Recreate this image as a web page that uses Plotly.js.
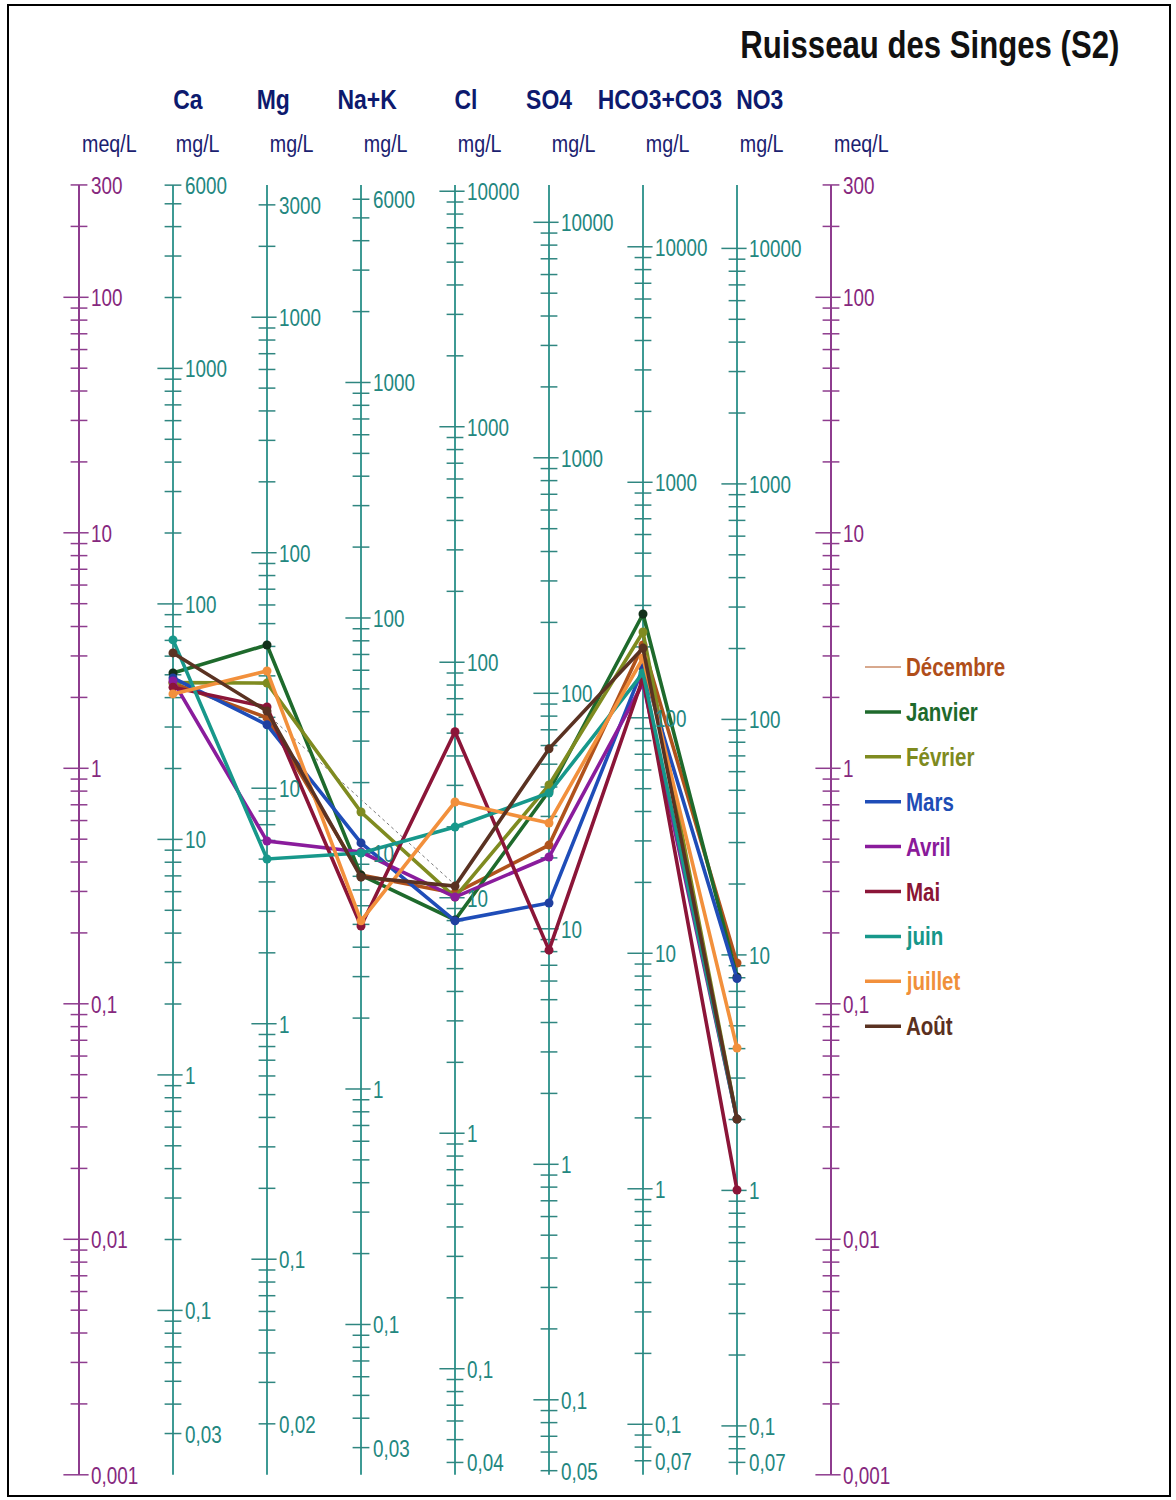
<!DOCTYPE html>
<html><head><meta charset="utf-8">
<script src="https://cdn.plot.ly/plotly-3.0.1.min.js"></script>
<style>body{margin:0;background:#fff}</style>
</head><body>
<div id="chart" style="width:1176px;height:1500px"></div>
<script>
// ---------- DATA (meq/L) ----------
const columns = ['Ca', 'Mg', 'Na+K', 'Cl', 'SO4', 'HCO3+CO3', 'NO3'];
const eqWeights = [20.04, 12.15, 23.0, 35.45, 48.03, 61.02, 62.0]; // mg per meq
const meqRange = [0.001, 300];
const months = ['Décembre', 'Janvier', 'Février', 'Mars', 'Avril', 'Mai', 'juin', 'juillet', 'Août'];
const decembre = [2.30, 1.64, 0.352, 0.295, 0.472, 3.34, 0.149];
const janvier  = [2.54, 3.34, 0.352, 0.227, 0.801, 4.52, 0.130];
const fevrier  = [2.31, 2.30, 0.652, 0.284, 0.849, 3.79, 0.0324];
const mars     = [2.42, 1.53, 0.482, 0.225, 0.268, 2.67, 0.128];
const avril    = [2.35, 0.491, 0.441, 0.284, 0.420, 2.30, 0.0324];
const mai      = [2.21, 1.82, 0.214, 1.43, 0.169, 2.42, 0.0162];
const juin     = [3.51, 0.412, 0.437, 0.563, 0.785, 2.54, 0.0324];
const juillet  = [2.07, 2.59, 0.225, 0.719, 0.586, 2.94, 0.0649];
const aout     = [3.09, 1.75, 0.345, 0.316, 1.21, 3.24, 0.0324];
const decembrePointille = [null, 1.70, null, 0.320, null, null, null];
const seriesValues = [decembre, janvier, fevrier, mars, avril, mai, juin, juillet, aout];
const titleText = 'Ruisseau des Singes (S2)';
const unitMeq = 'meq/L', unitMg = 'mg/L';

// ---------- STYLE ----------
const seriesColors = ['#B0521C', '#1E6A2C', '#7F8B20', '#1F4DB8', '#8A1C9C', '#8B1538', '#17988B', '#F2903C', '#5A3222'];
const markerColors = ['#B0521C', '#12301A', '#7F8B20', '#1F3FA0', '#8A1C9C', '#8B1538', '#17988B', '#F2903C', '#5A3222'];
const legendTextColors = ['#B04E1A', '#1E6A2C', '#7E8A1E', '#1E4DB5', '#8A1A9A', '#8A1535', '#16978A', '#F0903A', '#5A3020'];
const FONT = '"Liberation Sans Narrow", "Arial Narrow", "Liberation Sans", Arial, sans-serif';
const NARROW = 0.82; // horizontal squeeze to imitate a narrow face
const teal = '#3E9A94', tealTick = '#2F8680', tealText = '#23877F';
const purple = '#8E3C8E', purpleText = '#86287E';
const navy = '#0D1A6E';

const W = 1176, H = 1500;
const colPx0 = 79, colStep = 94;
const yPxAt1 = 768.3, decadePx = 235.5;
const xRange = [-colPx0 / colStep, (W - colPx0) / colStep];
const yRange = [(yPxAt1 - H) / decadePx, yPxAt1 / decadePx];
const px2paperX = p => p / W;
const px2paperY = p => 1 - p / H;

const traces = [];
const annotations = [];
const shapes = [];

// ---------- VERTICAL AXES ----------
const axisWeights = [1].concat(eqWeights, [1]);
axisWeights.forEach((w, i) => {
  const isMeq = (i === 0 || i === axisWeights.length - 1);
  const lineCol = isMeq ? purple : teal;
  const tickCol = isMeq ? purple : tealTick;
  const txtCol = isMeq ? purpleText : tealText;
  traces.push({x: [i, i], y: meqRange, mode: 'lines', line: {color: lineCol, width: 2},
    hoverinfo: 'skip', showlegend: false});
  const minU = meqRange[0] * w * (1 - 1e-9), maxU = meqRange[1] * w * (1 + 1e-9);
  const ticks = [];
  for (let k = -4; k <= 5; k++) {
    for (let n = 1; n <= 9; n++) {
      const v = Number((n * Math.pow(10, k)).toPrecision(3));
      if (v >= minU && v <= maxU) ticks.push({v, n});
    }
  }
  const vmin = Math.min(...ticks.map(t => t.v)), vmax = Math.max(...ticks.map(t => t.v));
  const minor = ticks.filter(t => t.n !== 1), major = ticks.filter(t => t.n === 1);
  traces.push({x: minor.map(() => i), y: minor.map(t => t.v / w), mode: 'markers',
    marker: {symbol: 'line-ew', size: 12, line: {color: tickCol, width: 1.5}},
    hoverinfo: 'skip', showlegend: false});
  traces.push({x: major.map(() => i - 3 / colStep), y: major.map(t => t.v / w), mode: 'markers',
    marker: {symbol: 'line-ew', size: 18, line: {color: tickCol, width: 1.5}},
    hoverinfo: 'skip', showlegend: false});
  ticks.forEach(t => {
    if (t.n === 1 || t.v === vmin || t.v === vmax) {
      annotations.push({x: i, y: Math.log10(t.v / w), xref: 'x', yref: 'y',
        text: String(t.v).replace('.', ','), showarrow: false, xanchor: 'left', yanchor: 'middle',
        xshift: 11, yshift: -1, borderpad: 0,
        font: {family: FONT, size: 23, color: txtCol}});
    }
  });
  annotations.push({x: px2paperX(colPx0 + colStep * i + (isMeq ? 30 : 24)), y: px2paperY(144), xref: 'paper', yref: 'paper',
    text: isMeq ? unitMeq : unitMg, showarrow: false, xanchor: 'center', yanchor: 'middle',
    font: {family: FONT, size: 24, color: '#1B2170'}});
});

// column titles
const titleCentersPx = [188, 273, 367, 466, 549, 660, 760];
columns.forEach((c, j) => {
  annotations.push({x: px2paperX(titleCentersPx[j]), y: px2paperY(100), xref: 'paper', yref: 'paper',
    text: '<b>' + c + '</b>', showarrow: false, xanchor: 'center', yanchor: 'middle',
    font: {family: FONT, size: 28, color: navy}});
});

// main title
annotations.push({x: px2paperX(1122), y: px2paperY(45), xref: 'paper', yref: 'paper',
  text: '<b>' + titleText + '</b>', showarrow: false, xanchor: 'right', yanchor: 'middle',
  font: {family: FONT, size: 38, color: '#111111'}});

// ---------- DATA SERIES ----------
const xCols = columns.map((c, j) => j + 1);
traces.push({x: xCols, y: decembrePointille, mode: 'lines', connectgaps: true,
  line: {color: '#7a7a7a', width: 1, dash: 'dot'}, hoverinfo: 'skip', showlegend: false,
  name: 'Décembre (pointillé)'});
seriesValues.forEach((vals, s) => {
  traces.push({x: xCols, y: vals, mode: 'lines+markers', name: months[s],
    line: {color: seriesColors[s], width: 3.6},
    marker: {color: markerColors[s], size: 9},
    showlegend: false});
});

// ---------- LEGEND (drawn) ----------
months.forEach((m, s) => {
  const py = 667 + 44.9 * s;
  shapes.push({type: 'line', xref: 'paper', yref: 'paper',
    x0: px2paperX(865), x1: px2paperX(901), y0: px2paperY(py), y1: px2paperY(py),
    line: {color: seriesColors[s], width: s === 0 ? 1 : 3.5}});
  annotations.push({x: px2paperX(905), y: px2paperY(py), xref: 'paper', yref: 'paper',
    text: '<b>' + m + '</b>', showarrow: false, xanchor: 'left', yanchor: 'middle', borderpad: 0,
    font: {family: FONT, size: 25, color: legendTextColors[s]}});
});

// frame
shapes.push({type: 'rect', xref: 'paper', yref: 'paper',
  x0: px2paperX(8), x1: px2paperX(1170), y0: px2paperY(1496), y1: px2paperY(5),
  line: {color: '#000', width: 2}});

const layout = {
  width: W, height: H,
  margin: {l: 0, r: 0, t: 0, b: 0, pad: 0},
  paper_bgcolor: '#fff', plot_bgcolor: '#fff',
  showlegend: false,
  xaxis: {range: xRange, visible: false, showgrid: false, zeroline: false, fixedrange: true},
  yaxis: {type: 'log', range: yRange, visible: false, showgrid: false, zeroline: false, fixedrange: true},
  annotations, shapes,
  font: {family: FONT}
};

function squeezeText() {
  document.querySelectorAll('g.annotation').forEach(g => {
    const idx = +g.getAttribute('data-index');
    const a = annotations[idx];
    const t = g.querySelector('text.annotation-text');
    if (!a || !t) return;
    const bb = t.getBBox();
    let ax = bb.x + bb.width / 2;
    if (a.xanchor === 'left') ax = bb.x;
    if (a.xanchor === 'right') ax = bb.x + bb.width;
    const prev = t.getAttribute('transform') || '';
    t.setAttribute('transform', prev + ' translate(' + ax + ',0) scale(' + NARROW + ',1) translate(' + (-ax) + ',0)');
  });
}
Plotly.newPlot('chart', traces, layout, {staticPlot: true, displayModeBar: false}).then(squeezeText);
</script>
</body></html>
